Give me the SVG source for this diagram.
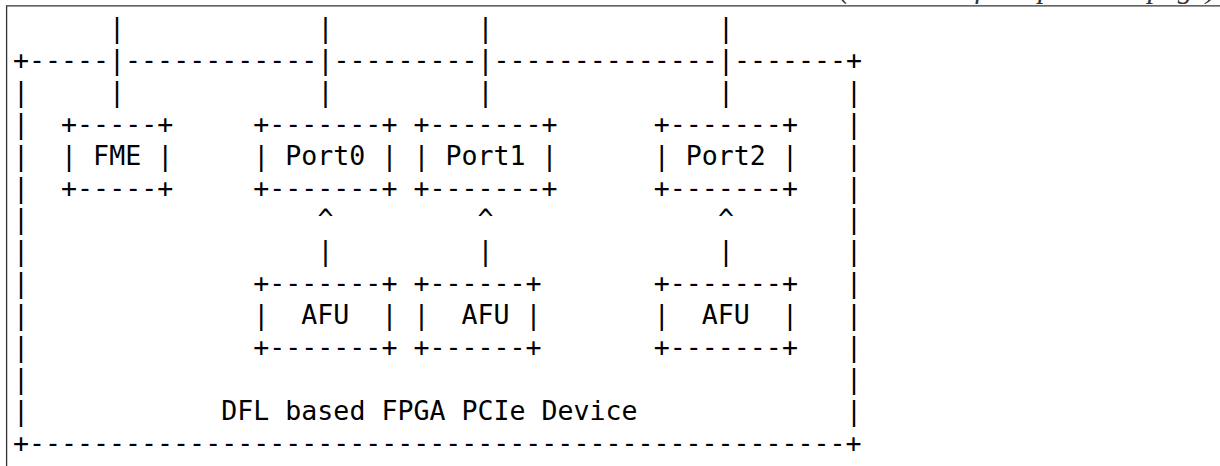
<svg xmlns="http://www.w3.org/2000/svg" width="1220" height="466" viewBox="0 0 1220 466" xml:space="preserve">
<style>
  text { font-family: "DejaVu Sans Mono", "Liberation Mono", monospace; font-size: 26.6px; fill: #000; white-space: pre; }
  text.cap { font-family: "Liberation Serif", serif; font-style: italic; font-size: 30px; fill: #333; }
  .frame { stroke: #333; stroke-width: 1.3; fill: none; }
</style>
<rect x="0" y="0" width="1220" height="466" fill="#fff"/>
<text class="cap" x="1216" y="-2" text-anchor="end">(continued from previous page)</text>
<line class="frame" x1="6" y1="5.8" x2="1220" y2="5.8"/>
<line class="frame" x1="6.6" y1="5.8" x2="6.6" y2="466" stroke="#000"/>

<g id="device">
  <text x="13" y="68.9">+-----</text>
  <text x="125.1" y="68.9">------------</text>
  <text x="333.4" y="68.9">---------</text>
  <text x="493.6" y="68.9">--------------</text>
  <text x="733.9" y="68.9">-------+</text>
  <text x="13" y="100.8">|</text><text x="846" y="100.8">|</text>
  <text x="13" y="132.7">|</text><text x="846" y="132.7">|</text>
  <text x="13" y="164.6">|</text><text x="846" y="164.6">|</text>
  <text x="13" y="196.5">|</text><text x="846" y="196.5">|</text>
  <text x="13" y="228.4">|</text><text x="846" y="228.4">|</text>
  <text x="13" y="260.3">|</text><text x="846" y="260.3">|</text>
  <text x="13" y="292.2">|</text><text x="846" y="292.2">|</text>
  <text x="13" y="324.1">|</text><text x="846" y="324.1">|</text>
  <text x="13" y="356">|</text><text x="846" y="356">|</text>
  <text x="13" y="387.9">|</text><text x="846" y="387.9">|</text>
  <text x="13" y="419.8">|</text><text x="846" y="419.8">|</text>
  <text x="221.3" y="419.8">DFL based FPGA PCIe Device</text>
  <text x="13" y="451.7">+---------------------------------------------------+</text>
</g>

<g id="fme">
  <text x="61.1" y="132.7">+-----+</text>
  <text x="61.1" y="164.6">| FME |</text>
  <text x="61.1" y="196.5">+-----+</text>
</g>

<g id="port0">
  <text x="253.3" y="132.7">+-------+</text>
  <text x="253.3" y="164.6">| Port0 |</text>
  <text x="253.3" y="196.5">+-------+</text>
</g>

<g id="port1">
  <text x="413.5" y="132.7">+-------+</text>
  <text x="413.5" y="164.6">| Port1 |</text>
  <text x="413.5" y="196.5">+-------+</text>
</g>

<g id="port2">
  <text x="653.8" y="132.7">+-------+</text>
  <text x="653.8" y="164.6">| Port2 |</text>
  <text x="653.8" y="196.5">+-------+</text>
</g>

<g id="afu0">
  <text x="253.3" y="292.2">+-------+</text>
  <text x="253.3" y="324.1">|  AFU  |</text>
  <text x="253.3" y="356">+-------+</text>
</g>

<g id="afu1">
  <text x="413.5" y="292.2">+------+</text>
  <text x="413.5" y="324.1">|  AFU |</text>
  <text x="413.5" y="356">+------+</text>
</g>

<g id="afu2">
  <text x="653.8" y="292.2">+-------+</text>
  <text x="653.8" y="324.1">|  AFU  |</text>
  <text x="653.8" y="356">+-------+</text>
</g>

<g id="connectors">
  <text x="109.1" y="37">|</text><text x="109.1" y="68.9">|</text><text x="109.1" y="100.8">|</text>
  <text x="317.4" y="37">|</text><text x="317.4" y="68.9">|</text><text x="317.4" y="100.8">|</text>
  <text x="477.6" y="37">|</text><text x="477.6" y="68.9">|</text><text x="477.6" y="100.8">|</text>
  <text x="717.9" y="37">|</text><text x="717.9" y="68.9">|</text><text x="717.9" y="100.8">|</text>
  <text x="317.4" y="228.4">^</text><text x="317.4" y="260.3">|</text>
  <text x="477.6" y="228.4">^</text><text x="477.6" y="260.3">|</text>
  <text x="717.9" y="228.4">^</text><text x="717.9" y="260.3">|</text>
</g>
</svg>
